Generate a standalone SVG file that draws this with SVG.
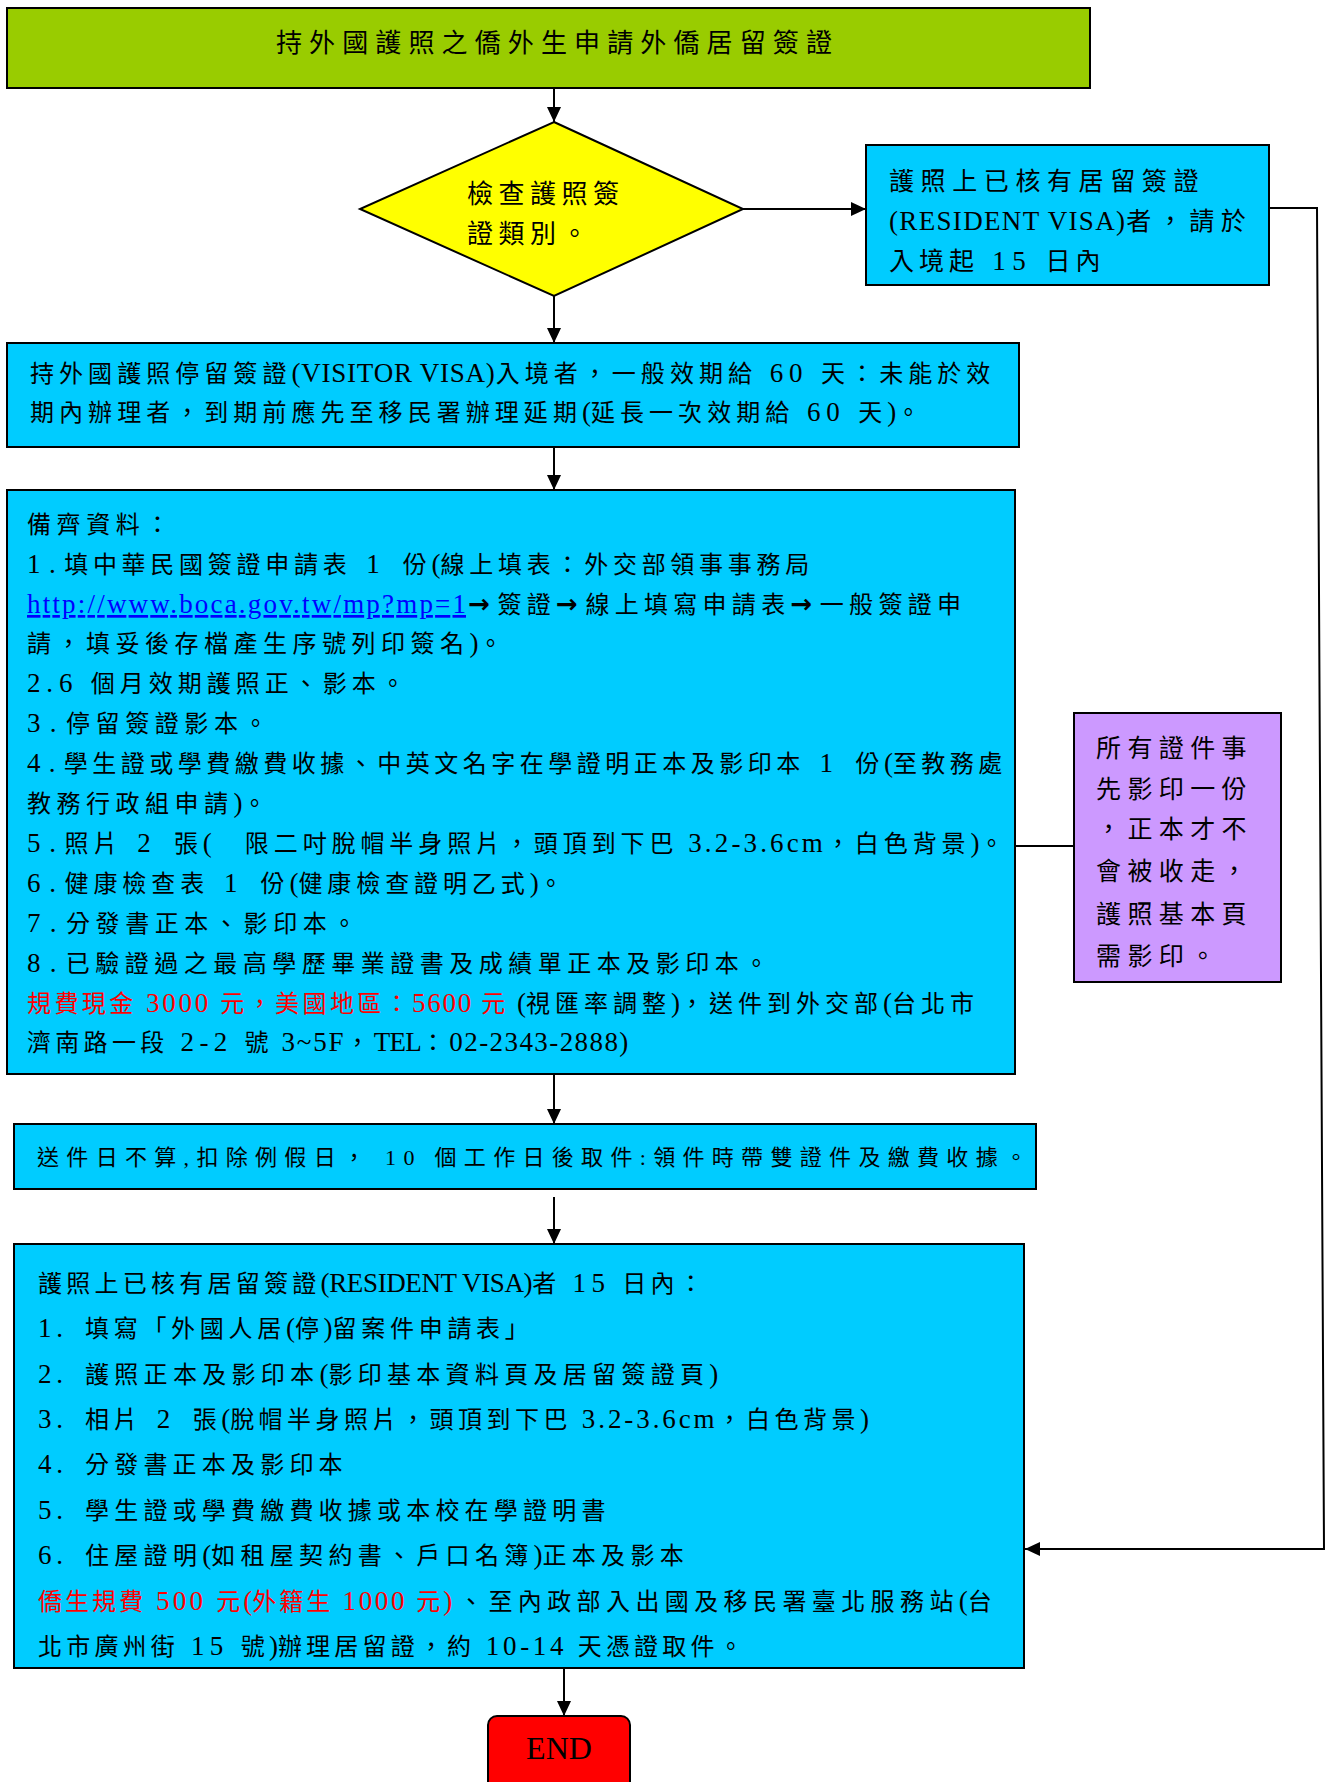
<svg xmlns="http://www.w3.org/2000/svg" width="1327" height="1782" viewBox="0 0 1327 1782">
<style>
.t{font-family:"Noto Sans CJK TC","Liberation Serif",sans-serif;fill:#000}
.s{font-family:"Liberation Serif","Noto Sans CJK TC",serif;fill:#000}
.L{font-family:"Liberation Serif",serif;font-size:27px;letter-spacing:0}
.ar{font-family:"DejaVu Sans",sans-serif;font-weight:bold;font-size:26px}
.f22{font-size:22px}
.f24{font-size:24px}
.f25{font-size:25px}
.f26{font-size:26px}
.red{fill:#FF0000}
.link{fill:#0000FF;text-decoration:underline}
.box{stroke:#000;stroke-width:2}
.cyan{fill:#00CCFF}
.conn{fill:none;stroke:#000;stroke-width:2}
</style>
<defs>
<marker id="ah" markerUnits="userSpaceOnUse" markerWidth="16" markerHeight="14" refX="15" refY="7" orient="auto">
<path d="M0,0 L15,7 L0,14 z" fill="#000"/>
</marker>
</defs>
<rect width="1327" height="1782" fill="#fff"/>

<g id="connectors">
<line class="conn" x1="554" y1="88" x2="554" y2="122" marker-end="url(#ah)"/>
<line class="conn" x1="743" y1="209" x2="866" y2="209" marker-end="url(#ah)"/>
<polyline class="conn" points="1269,208 1317,208 1324,1549 1025,1549" marker-end="url(#ah)"/>
<line class="conn" x1="554" y1="296" x2="554" y2="343" marker-end="url(#ah)"/>
<line class="conn" x1="554" y1="447" x2="554" y2="490" marker-end="url(#ah)"/>
<line class="conn" x1="554" y1="1074" x2="554" y2="1124" marker-end="url(#ah)"/>
<line class="conn" x1="554" y1="1197" x2="554" y2="1244" marker-end="url(#ah)"/>
<line class="conn" x1="564" y1="1668" x2="564" y2="1716" marker-end="url(#ah)"/>
<line class="conn" x1="1015" y1="846" x2="1074" y2="846"/>
</g>

<g id="title">
<rect class="box" x="7" y="8" width="1083" height="80" fill="#99CC00" stroke-width="2.5"/>
<text class="t f26" x="276" y="52" textLength="556" lengthAdjust="spacing">持外國護照之僑外生申請外僑居留簽證</text>
</g>

<g id="check">
<polygon class="box" points="554,122 743,209 554,296 360,209" fill="#FFFF00"/>
<text class="t f26" x="467" y="203" letter-spacing="5.5">檢查護照簽</text>
<text class="t f26" x="467" y="243" letter-spacing="5.5">證類別。</text>
</g>

<g id="resident">
<rect class="box cyan" x="866" y="145" width="403" height="140"/>
<text class="t f25" x="889" y="189.5" letter-spacing="6.6">護照上已核有居留簽證</text>
<text class="t f25" x="889" y="229.5" letter-spacing="6.5"><tspan class="L" textLength="236" lengthAdjust="spacing">(RESIDENT VISA)</tspan>者，請於</text>
<text class="t f25" x="889" y="269.5" letter-spacing="5">入境起<tspan class="L" textLength="60" lengthAdjust="spacing"> 15 </tspan>日內</text>
</g>

<g id="visitor">
<rect class="box cyan" x="7" y="343" width="1012" height="104"/>
<text class="t f24" x="30" y="382" letter-spacing="5.05">持外國護照停留簽證<tspan class="L" textLength="203.4" lengthAdjust="spacing">(VISITOR VISA)</tspan>入境者，一般效期給<tspan class="L" textLength="58.1" lengthAdjust="spacing"> 60 </tspan>天：未能於效</text>
<text class="t f24" x="30" y="421" letter-spacing="5.05">期內辦理者，到期前應先至移民署辦理延期<tspan class="L" textLength="14.5" lengthAdjust="spacing">(</tspan>延長一次效期給<tspan class="L" textLength="58.1" lengthAdjust="spacing"> 60 </tspan>天<tspan class="L" textLength="14.5" lengthAdjust="spacing">)</tspan>。</text>
</g>

<g id="documents">
<rect class="box cyan" x="7" y="490" width="1008" height="584"/>
<text class="t f24" x="27" y="533" letter-spacing="5.6">備齊資料：</text>
<text class="t f24" x="27" y="573" letter-spacing="4.74"><tspan class="L" textLength="28.7" lengthAdjust="spacing">1.</tspan>填中華民國簽證申請表<tspan class="L" textLength="43.1" lengthAdjust="spacing"> 1 </tspan>份<tspan class="L" textLength="14.4" lengthAdjust="spacing">(</tspan>線上填表：外交部領事事務局</text>
<text class="t f24" x="27" y="613" letter-spacing="5.3"><tspan class="L link" textLength="439" lengthAdjust="spacing">http://www.boca.gov.tw/mp?mp=1</tspan><tspan class="ar" letter-spacing="7.5">→</tspan>簽證<tspan class="ar" letter-spacing="7.5">→</tspan>線上填寫申請表<tspan class="ar" letter-spacing="7.5">→</tspan>一般簽證申</text>
<text class="t f24" x="27" y="652" letter-spacing="5.5">請，填妥後存檔產生序號列印簽名<tspan class="L" textLength="14.75" lengthAdjust="spacing">)</tspan>。</text>
<text class="t f24" x="27" y="692" letter-spacing="5.0"><tspan class="L" textLength="58" lengthAdjust="spacing">2.6 </tspan>個月效期護照正、影本。</text>
<text class="t f24" x="27" y="732" letter-spacing="5.6"><tspan class="L" textLength="29.6" lengthAdjust="spacing">3.</tspan>停留簽證影本。</text>
<text class="t f24" x="27" y="772" letter-spacing="4.5"><tspan class="L" textLength="28.5" lengthAdjust="spacing">4.</tspan>學生證或學費繳費收據、中英文名字在學證明正本及影印本<tspan class="L" textLength="42.75" lengthAdjust="spacing"> 1 </tspan>份<tspan class="L" textLength="14.25" lengthAdjust="spacing">(</tspan>至教務處</text>
<text class="t f24" x="27" y="812" letter-spacing="5.5">教務行政組申請<tspan class="L" textLength="14.75" lengthAdjust="spacing">)</tspan>。</text>
<text class="t f24" x="27" y="852" letter-spacing="4.9"><tspan class="L" textLength="28.9" lengthAdjust="spacing">5.</tspan>照片<tspan class="L" textLength="43.35" lengthAdjust="spacing"> 2 </tspan>張<tspan class="L" textLength="28.9" lengthAdjust="spacing">( </tspan>限二吋脫帽半身照片，頭頂到下巴<tspan class="L" textLength="144.5" lengthAdjust="spacing"> 3.2-3.6cm</tspan>，白色背景<tspan class="L" textLength="14.45" lengthAdjust="spacing">)</tspan>。</text>
<text class="t f24" x="27" y="892" letter-spacing="4.9"><tspan class="L" textLength="28.9" lengthAdjust="spacing">6.</tspan>健康檢查表<tspan class="L" textLength="43.35" lengthAdjust="spacing"> 1 </tspan>份<tspan class="L" textLength="14.45" lengthAdjust="spacing">(</tspan>健康檢查證明乙式<tspan class="L" textLength="14.45" lengthAdjust="spacing">)</tspan>。</text>
<text class="t f24" x="27" y="932" letter-spacing="5.6"><tspan class="L" textLength="29.6" lengthAdjust="spacing">7.</tspan>分發書正本、影印本。</text>
<text class="t f24" x="27" y="972" letter-spacing="5.5"><tspan class="L" textLength="29.5" lengthAdjust="spacing">8.</tspan>已驗證過之最高學歷畢業證書及成績單正本及影印本。</text>
<text class="t f24 red" x="27" y="1012" letter-spacing="3.4">規費現金<tspan class="L" textLength="81" lengthAdjust="spacing"> 3000 </tspan>元，美國地區：<tspan class="L" textLength="67.5" lengthAdjust="spacing">5600 </tspan>元</text>
<text class="t f24" x="517" y="1012" letter-spacing="5.0"><tspan class="L" textLength="14.5" lengthAdjust="spacing">(</tspan>視匯率調整<tspan class="L" textLength="14.5" lengthAdjust="spacing">)</tspan>，送件到外交部<tspan class="L" textLength="14.5" lengthAdjust="spacing">(</tspan>台北市</text>
<text class="t f24" x="27" y="1051" letter-spacing="4.3">濟南路一段<tspan class="L" textLength="70.75" lengthAdjust="spacing"> 2-2 </tspan>號<tspan class="L" textLength="70.75" lengthAdjust="spacing"> 3~5F</tspan>，<tspan class="L" textLength="48" lengthAdjust="spacing">TEL</tspan>：<tspan class="L" textLength="179" lengthAdjust="spacing">02-2343-2888)</tspan></text>
</g>

<g id="copy-note">
<rect class="box" x="1074" y="713" width="207" height="269" fill="#CC99FF"/>
<text class="t f25" x="1096" y="756.5" letter-spacing="6.4">所有證件事</text>
<text class="t f25" x="1096" y="797.5" letter-spacing="6.4">先影印一份</text>
<text class="t f25" x="1096" y="837.5" letter-spacing="6.4">，正本才不</text>
<text class="t f25" x="1096" y="879.5" letter-spacing="6.4">會被收走，</text>
<text class="t f25" x="1096" y="922.5" letter-spacing="6.4">護照基本頁</text>
<text class="t f25" x="1096" y="964.5" letter-spacing="6.4">需影印。</text>
</g>

<g id="pickup">
<rect class="box cyan" x="14" y="1124" width="1022" height="65"/>
<text class="s f22" x="37" y="1165" textLength="990" lengthAdjust="spacing">送件日不算,扣除例假日， 10 個工作日後取件:領件時帶雙證件及繳費收據。</text>
</g>

<g id="residence">
<rect class="box cyan" x="14" y="1244" width="1010" height="424"/>
<text class="t f24" x="38" y="1292" letter-spacing="4.26">護照上已核有居留簽證<tspan class="L" textLength="212" lengthAdjust="spacing">(RESIDENT VISA)</tspan>者<tspan class="L" textLength="56.5" lengthAdjust="spacing"> 15 </tspan>日內：</text>
<text class="t f24" x="38" y="1337" letter-spacing="4.7"><tspan class="L" textLength="25" lengthAdjust="spacing">1.</tspan><tspan x="85">填寫「外國人居<tspan class="L" textLength="14.35" lengthAdjust="spacing">(</tspan>停<tspan class="L" textLength="14.35" lengthAdjust="spacing">)</tspan>留案件申請表」</tspan></text>
<text class="t f24" x="38" y="1383" letter-spacing="5.3"><tspan class="L" textLength="25" lengthAdjust="spacing">2.</tspan><tspan x="85">護照正本及影印本<tspan class="L" textLength="14.65" lengthAdjust="spacing">(</tspan>影印基本資料頁及居留簽證頁<tspan class="L" textLength="14.65" lengthAdjust="spacing">)</tspan></tspan></text>
<text class="t f24" x="38" y="1428" letter-spacing="4.5"><tspan class="L" textLength="25" lengthAdjust="spacing">3.</tspan><tspan x="85">相片<tspan class="L" textLength="42.75" lengthAdjust="spacing"> 2 </tspan>張<tspan class="L" textLength="14.25" lengthAdjust="spacing">(</tspan>脫帽半身照片，頭頂到下巴<tspan class="L" textLength="142.5" lengthAdjust="spacing"> 3.2-3.6cm</tspan>，白色背景<tspan class="L" textLength="14.25" lengthAdjust="spacing">)</tspan></tspan></text>
<text class="t f24" x="38" y="1473" letter-spacing="5.2"><tspan class="L" textLength="25" lengthAdjust="spacing">4.</tspan><tspan x="85">分發書正本及影印本</tspan></text>
<text class="t f24" x="38" y="1519" letter-spacing="5.2"><tspan class="L" textLength="25" lengthAdjust="spacing">5.</tspan><tspan x="85">學生證或學費繳費收據或本校在學證明書</tspan></text>
<text class="t f24" x="38" y="1564" letter-spacing="5.3"><tspan class="L" textLength="25" lengthAdjust="spacing">6.</tspan><tspan x="85">住屋證明<tspan class="L" textLength="14.65" lengthAdjust="spacing">(</tspan>如租屋契約書、戶口名簿<tspan class="L" textLength="14.65" lengthAdjust="spacing">)</tspan>正本及影本</tspan></text>
<text class="t f24 red" x="38" y="1610" letter-spacing="3.0">僑生規費<tspan class="L" textLength="67" lengthAdjust="spacing"> 500 </tspan>元<tspan class="L" textLength="13.4" lengthAdjust="spacing">(</tspan>外籍生<tspan class="L" textLength="80.5" lengthAdjust="spacing"> 1000 </tspan>元<tspan class="L" textLength="13.4" lengthAdjust="spacing">)</tspan></text>
<text class="t f24" x="459" y="1610" letter-spacing="5.4">、至內政部入出國及移民署臺北服務站<tspan class="L" textLength="14.7" lengthAdjust="spacing">(</tspan>台</text>
<text class="t f24" x="38" y="1655" letter-spacing="4.2">北市廣州街<tspan class="L" textLength="56.4" lengthAdjust="spacing"> 15 </tspan>號<tspan class="L" textLength="14.1" lengthAdjust="spacing">)</tspan>辦理居留證，約<tspan class="L" textLength="98.7" lengthAdjust="spacing"> 10-14 </tspan>天憑證取件。</text>
</g>

<g id="end">
<rect class="box" x="488" y="1716" width="142" height="80" rx="9" fill="#FF0000"/>
<text x="559" y="1759" font-family="Liberation Serif" font-size="32" text-anchor="middle" fill="#000">END</text>
</g>
</svg>
